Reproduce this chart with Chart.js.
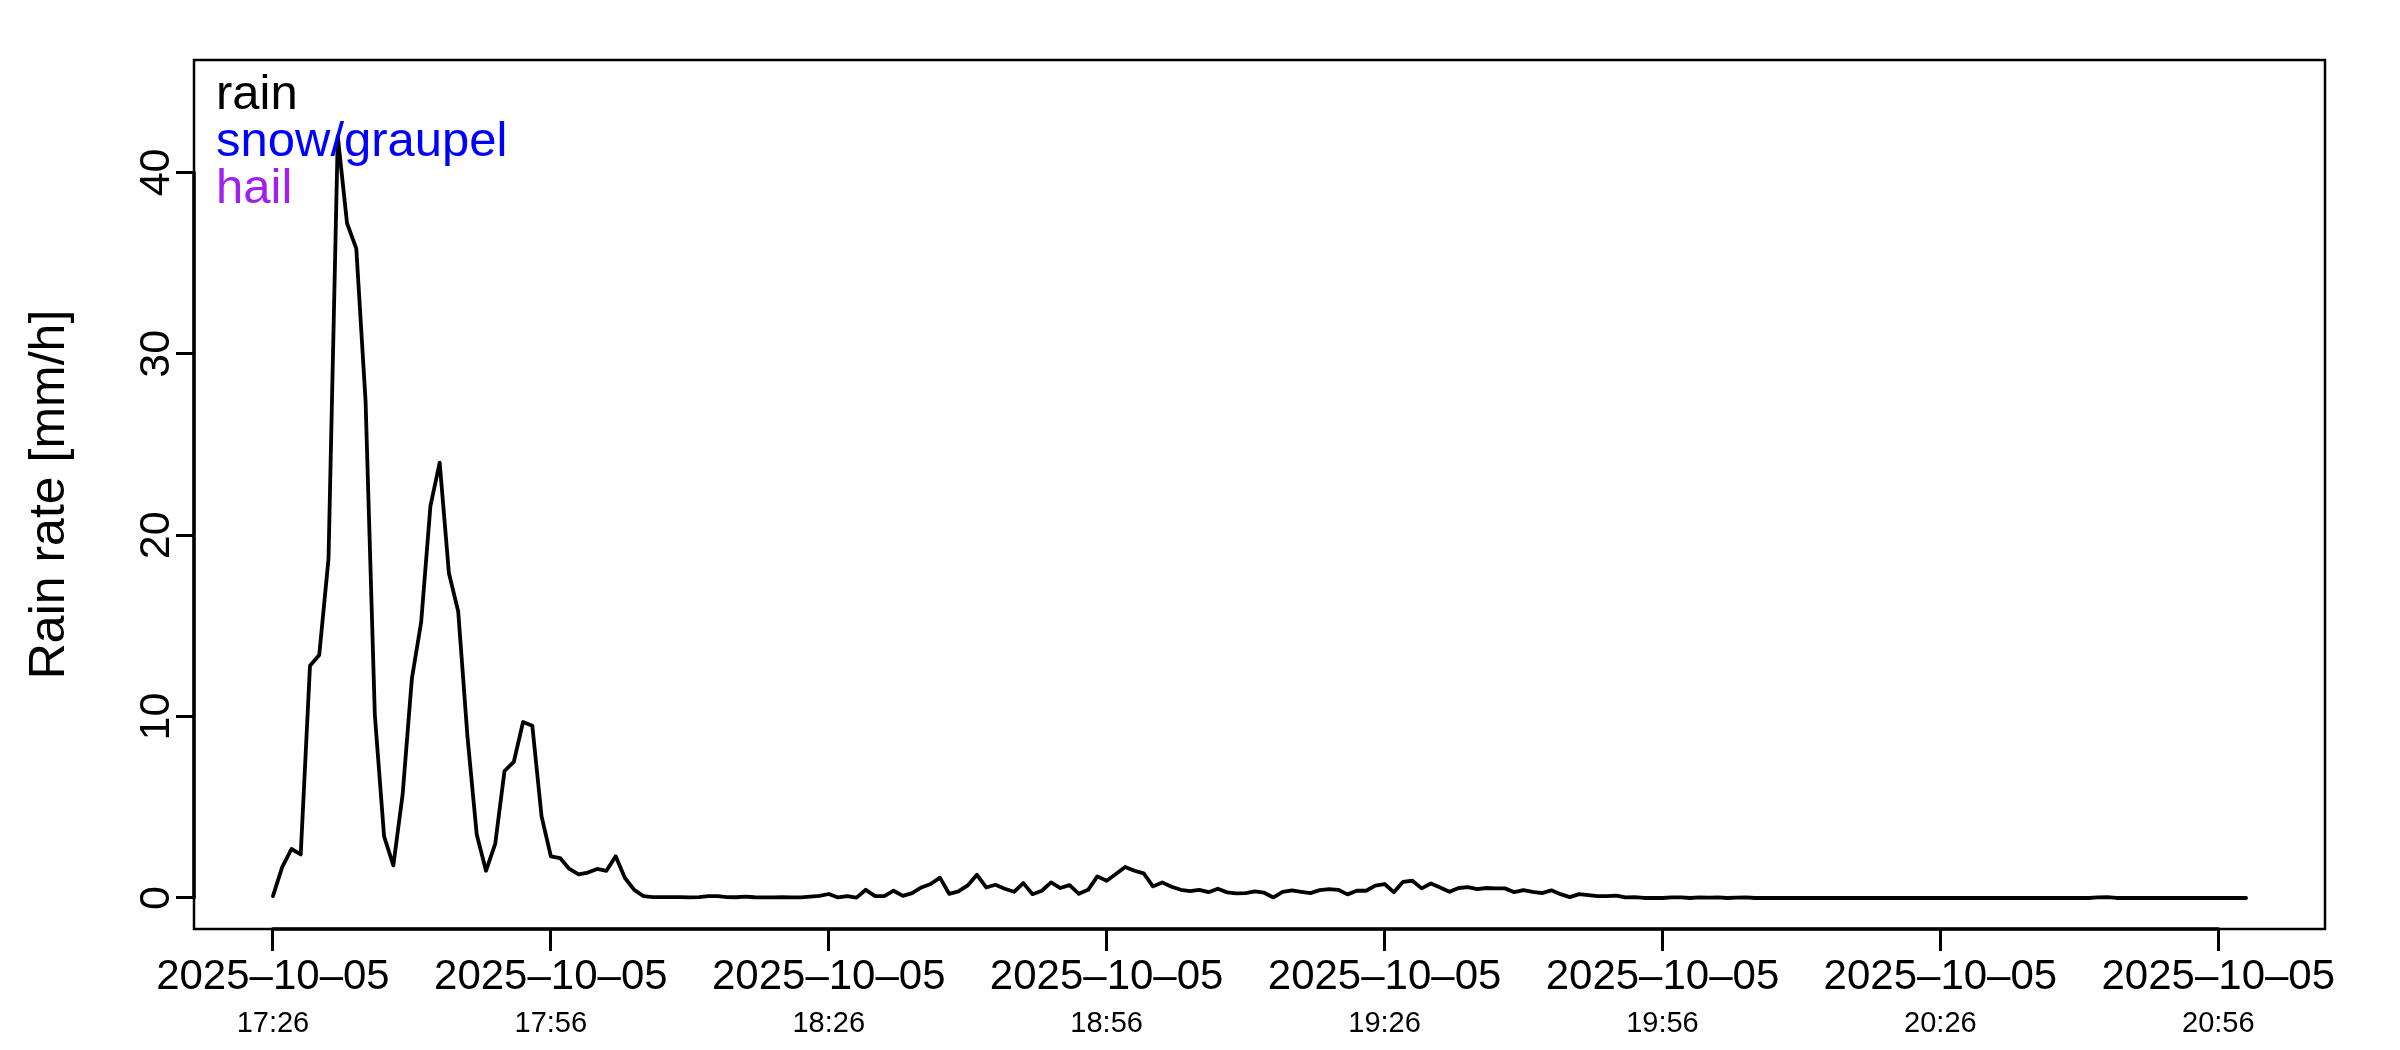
<!DOCTYPE html>
<html>
<head>
<meta charset="utf-8">
<script src="https://cdn.jsdelivr.net/npm/chart.js@4.4.1/dist/chart.umd.min.js"></script>
<style>
  html, body { margin: 0; padding: 0; background: #fff; }
  canvas { display: block; }
</style>
</head>
<body>
<canvas id="rainChart" width="2400" height="1050"></canvas>
<script>
// rain rate [mm/h], one value per minute starting 2025-10-05 17:26
const rainRate = [
  0.1, 1.7, 2.7, 2.4, 12.8, 13.4, 18.7, 42.0, 37.2, 35.8,
  27.4, 10.1, 3.4, 1.8, 5.7, 12.1, 15.2, 21.6, 24.0, 17.9,
  15.8, 8.9, 3.5, 1.5, 3.0, 7.0, 7.5, 9.7, 9.5, 4.5,
  2.3, 2.2, 1.6, 1.3, 1.4, 1.6, 1.5, 2.3, 1.1, 0.45,
  0.1, 0.05, 0.05, 0.05, 0.05, 0.03, 0.05, 0.1, 0.1, 0.05,
  0.04, 0.08, 0.04, 0.03, 0.03, 0.05, 0.03, 0.03, 0.08, 0.12,
  0.22, 0.03, 0.1, 0.02, 0.45, 0.1, 0.1, 0.4, 0.12, 0.27,
  0.58, 0.77, 1.12, 0.23, 0.36, 0.69, 1.28, 0.58, 0.73, 0.51,
  0.34, 0.82, 0.21, 0.4, 0.86, 0.55, 0.71, 0.23, 0.45, 1.19,
  0.95, 1.32, 1.71, 1.5, 1.36, 0.64, 0.86, 0.62, 0.45, 0.38,
  0.45, 0.32, 0.51, 0.31, 0.25, 0.27, 0.36, 0.29, 0.03, 0.34,
  0.42, 0.34, 0.27, 0.43, 0.49, 0.45, 0.2, 0.4, 0.4, 0.68,
  0.77, 0.32, 0.89, 0.95, 0.53, 0.8, 0.58, 0.34, 0.55, 0.6,
  0.49, 0.55, 0.53, 0.53, 0.32, 0.43, 0.34, 0.27, 0.42, 0.21,
  0.05, 0.21, 0.16, 0.1, 0.1, 0.13, 0.03, 0.05, 0.0, 0.0,
  0.0, 0.03, 0.03, 0.0, 0.03, 0.02, 0.03, 0.0, 0.02, 0.03,
  0, 0, 0, 0, 0, 0, 0, 0, 0, 0,
  0, 0, 0, 0, 0, 0, 0, 0, 0, 0,
  0, 0, 0, 0, 0, 0, 0, 0, 0, 0,
  0, 0, 0, 0, 0, 0, 0, 0.03, 0.05, 0,
  0, 0, 0, 0, 0, 0, 0, 0, 0, 0,
  0, 0, 0, 0
];

// x ticks: minutes after 17:26
const tickMinutes = [0, 30, 60, 90, 120, 150, 180, 210];
const tickDates = ['2025–10–05', '2025–10–05', '2025–10–05', '2025–10–05',
                   '2025–10–05', '2025–10–05', '2025–10–05', '2025–10–05'];
const tickTimes = ['17:26', '17:56', '18:26', '18:56', '19:26', '19:56', '20:26', '20:56'];
const yTicks = [0, 10, 20, 30, 40];

const legendNames = ['rain', 'snow/graupel', 'hail'];
const legendColors = ['#000000', '#0000ff', '#a020f0'];

const FONT = '"Liberation Sans", Arial, Helvetica, sans-serif';
Chart.defaults.font.family = FONT;
Chart.defaults.color = '#000';

// R uses 4% padding around the data range
const xMin = -8.52, xMax = 221.52;
const yMin = -1.71, yMax = 46.2;

// box, axis lines, rotated y labels and the text legend, drawn like base R
const rStyle = {
  id: 'rStyle',
  afterDraw(chart) {
    const { ctx, chartArea: a, scales } = chart;
    const x = scales.x, y = scales.y;
    ctx.save();
    ctx.strokeStyle = '#000';
    ctx.lineWidth = 2.5;
    ctx.strokeRect(a.left, a.top, a.right - a.left, a.bottom - a.top);

    ctx.lineWidth = 3.5;
    ctx.lineCap = 'round';
    ctx.beginPath();
    ctx.moveTo(x.getPixelForValue(tickMinutes[0]), a.bottom);
    ctx.lineTo(x.getPixelForValue(tickMinutes[tickMinutes.length - 1]), a.bottom);
    ctx.moveTo(a.left, y.getPixelForValue(yTicks[0]));
    ctx.lineTo(a.left, y.getPixelForValue(yTicks[yTicks.length - 1]));
    ctx.stroke();

    ctx.fillStyle = '#000';
    ctx.textAlign = 'center';
    ctx.textBaseline = 'alphabetic';
    ctx.font = '43px ' + FONT;
    yTicks.forEach(v => {
      ctx.save();
      ctx.translate(169, y.getPixelForValue(v));
      ctx.rotate(-Math.PI / 2);
      ctx.fillText(String(v), 0, 0);
      ctx.restore();
    });

    ctx.save();
    ctx.font = '50px ' + FONT;
    ctx.translate(64, (a.top + a.bottom) / 2);
    ctx.rotate(-Math.PI / 2);
    ctx.fillText('Rain rate [mm/h]', 0, 0);
    ctx.restore();

    ctx.textAlign = 'left';
    ctx.font = '49px ' + FONT;
    legendNames.forEach((name, i) => {
      ctx.fillStyle = legendColors[i];
      ctx.fillText(name, a.left + 22, a.top + 49 + i * 47);
    });
    ctx.restore();
  }
};

const ctx = document.getElementById('rainChart').getContext('2d');
const rainChart = new Chart(ctx, {
  type: 'line',
  data: {
    datasets: [{
      label: 'rain',
      data: rainRate.map((v, i) => ({ x: i, y: v })),
      borderColor: '#000',
      borderWidth: 3.8,
      borderCapStyle: 'round',
      borderJoinStyle: 'round',
      pointRadius: 0,
      tension: 0,
      fill: false
    }]
  },
  options: {
    responsive: false,
    animation: false,
    devicePixelRatio: 1,
    layout: { padding: { left: 0, top: 60, right: 75, bottom: 0 } },
    plugins: { legend: { display: false }, tooltip: { enabled: false } },
    scales: {
      x: {
        type: 'linear',
        position: 'bottom',
        weight: 0,
        min: xMin,
        max: xMax,
        afterBuildTicks: s => { s.ticks = tickMinutes.map(v => ({ value: v })); },
        afterFit: s => { s.height = 70; },
        border: { display: false },
        grid: { drawOnChartArea: false, drawTicks: true, tickLength: 22, tickWidth: 3, tickColor: '#000' },
        ticks: {
          autoSkip: false, maxRotation: 0, minRotation: 0, padding: 1,
          font: { size: 42 }, color: '#000',
          callback: v => tickDates[tickMinutes.indexOf(v)]
        }
      },
      x2: {
        type: 'linear',
        position: 'bottom',
        weight: 1,
        min: xMin,
        max: xMax,
        afterBuildTicks: s => { s.ticks = tickMinutes.map(v => ({ value: v })); },
        afterFit: s => { s.height = 51; },
        border: { display: false },
        grid: { display: false },
        ticks: {
          autoSkip: false, maxRotation: 0, minRotation: 0, padding: 0,
          font: { size: 29 }, color: '#000',
          callback: v => tickTimes[tickMinutes.indexOf(v)]
        }
      },
      y: {
        type: 'linear',
        position: 'left',
        min: yMin,
        max: yMax,
        afterBuildTicks: s => { s.ticks = yTicks.map(v => ({ value: v })); },
        afterFit: s => { s.width = 194; },
        border: { display: false },
        grid: { drawOnChartArea: false, drawTicks: true, tickLength: 18, tickWidth: 3, tickColor: '#000' },
        ticks: { display: false }
      }
    }
  },
  plugins: [rStyle]
});
</script>
</body>
</html>
